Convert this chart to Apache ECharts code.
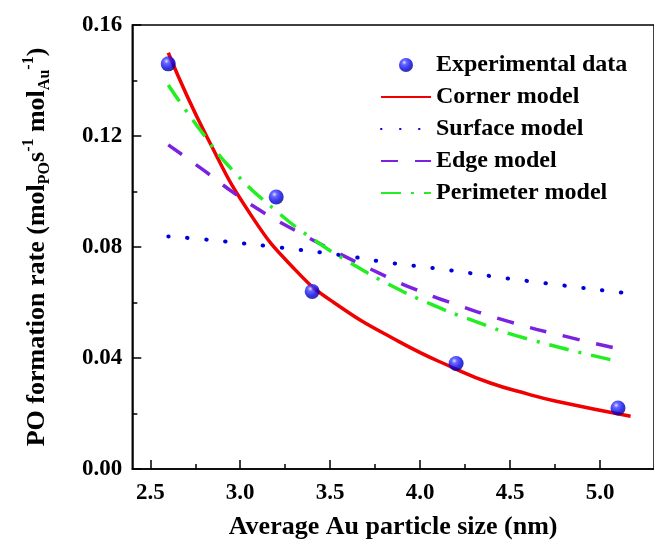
<!DOCTYPE html>
<html>
<head>
<meta charset="utf-8">
<title>PO formation rate</title>
<script src="https://cdn.jsdelivr.net/npm/echarts@6.0.0/dist/echarts.min.js"></script>
<style>
    html, body { margin: 0; padding: 0; background: #fff; }
    #main { width: 654px; height: 545px; }
</style>
</head>
<body>
<div id="main"></div>
<script>
// values, [size nm, rate]
const experimental = [[2.6, 0.146], [3.2, 0.098], [3.4, 0.064], [4.2, 0.038], [5.1, 0.022]];
const corner = [[2.6, 0.150], [2.82, 0.119], [3.07, 0.0905], [3.31, 0.0715], [3.52, 0.060], [3.88, 0.046],
    [4.2, 0.036], [4.39, 0.031], [4.6, 0.027], [4.75, 0.0245], [5.17, 0.019]];
const surface = [[2.6, 0.0838], [2.79, 0.0828], [3.21, 0.0799], [3.61, 0.0766], [3.81, 0.0745],
    [4.12, 0.072], [4.52, 0.0684], [5.12, 0.0636]];
const edge = [[2.6, 0.1168], [2.8, 0.1075], [2.96, 0.0997], [3.14, 0.0920], [3.31, 0.0858], [3.49, 0.0796],
    [3.81, 0.0694], [3.97, 0.0648], [4.15, 0.0604], [4.49, 0.0532], [4.82, 0.0476], [5.15, 0.0426]];
const perimeter = [[2.6, 0.1384], [2.77, 0.1228], [2.96, 0.1075], [3.2, 0.0930], [3.41, 0.0826],
    [3.62, 0.0740], [3.83, 0.0664], [4.06, 0.0594], [4.28, 0.0538], [4.58, 0.0472], [5.1, 0.0388]];
const legendNames = ["Experimental data", "Corner model", "Surface model", "Edge model", "Perimeter model"];
const xMajor = [2.5, 3.0, 3.5, 4.0, 4.5, 5.0];
const xMinor = [2.75, 3.25, 3.75, 4.25, 4.75];

const font = "'Liberation Serif', 'Times New Roman', serif";
const myChart = echarts.init(document.getElementById("main"));

const sphere = {
    type: "radial", x: 0.38, y: 0.32, r: 0.68,
    colorStops: [
        { offset: 0, color: "#d8d8ff" },
        { offset: 0.25, color: "#4040ff" },
        { offset: 0.7, color: "#0000e6" },
        { offset: 1, color: "#000090" },
    ],
};

// line entries in the legend: hide the little symbol, keep the line
const legendData = legendNames.map((name, i) =>
    i === 0 ? { name } : { name, itemStyle: { opacity: 0 } }
);

const option = {
    backgroundColor: "#fff",
    animation: false,
    grid: {
        left: 132.3, top: 25, right: -15.7, bottom: 75.7,
        show: true, borderColor: "#000", borderWidth: 1.5,
    },
    legend: {
        orient: "vertical",
        left: 375,
        top: 48,
        itemWidth: 50,
        itemHeight: 14,
        itemGap: 8,
        textStyle: { fontFamily: font, fontWeight: "bold", fontSize: 24, lineHeight: 24, color: "#000" },
        data: legendData,
    },
    xAxis: [
        {
            type: "value", min: 2.4, max: 5.3,
            name: "Average Au particle size (nm)",
            nameLocation: "middle", nameGap: 45,
            nameTextStyle: { fontFamily: font, fontWeight: "bold", fontSize: 26, color: "#000" },
            axisLine: { lineStyle: { color: "#000", width: 1.5 } },
            axisTick: { inside: true, length: 9, customValues: xMajor, lineStyle: { color: "#000", width: 1.5 } },
            axisLabel: {
                customValues: xMajor, margin: 13,
                fontFamily: font, fontWeight: "bold", fontSize: 23, color: "#000",
                formatter: (v) => v.toFixed(1),
            },
            splitLine: { show: false },
        },
        {
            // minor ticks only
            type: "value", min: 2.4, max: 5.3, position: "bottom",
            axisLine: { show: false },
            axisTick: { inside: true, length: 5, customValues: xMinor, lineStyle: { color: "#000", width: 1.5 } },
            axisLabel: { show: false },
            splitLine: { show: false },
        },
    ],
    yAxis: {
        type: "value", min: 0, max: 0.16, interval: 0.04,
        name: "PO formation rate (mol{sub|PO}s{sup|-1} mol{sub|Au}{sup|-1})",
        nameLocation: "middle", nameGap: 79, nameRotate: 90,
        nameTextStyle: {
            fontFamily: font, fontWeight: "bold", fontSize: 26, lineHeight: 32, color: "#000",
            rich: {
                sub: { fontFamily: font, fontWeight: "bold", fontSize: 16, lineHeight: 15, verticalAlign: "bottom", color: "#000" },
                sup: { fontFamily: font, fontWeight: "bold", fontSize: 16, lineHeight: 15, verticalAlign: "top", color: "#000" },
            },
        },
        axisLine: { show: true, lineStyle: { color: "#000", width: 1.5 } },
        axisTick: { inside: true, length: 9, lineStyle: { color: "#000", width: 1.5 } },
        minorTick: { show: true, splitNumber: 2, length: 5, lineStyle: { color: "#000", width: 1.5 } },
        axisLabel: {
            margin: 10, fontFamily: font, fontWeight: "bold", fontSize: 23, color: "#000",
            formatter: (v) => v.toFixed(2),
        },
        splitLine: { show: false },
    },
    series: [
        {
            name: "Corner model", type: "line", data: corner, smooth: true,
            symbol: "none", lineStyle: { color: "#f00000", width: 3.5 }, itemStyle: { color: "#f00000" },
        },
        {
            name: "Surface model", type: "line", data: surface, smooth: true,
            symbol: "none", lineStyle: { color: "#0000dd", width: 4, type: [0.5, 18.5], cap: "round" },
            itemStyle: { color: "#0000dd" },
        },
        {
            name: "Edge model", type: "line", data: edge, smooth: true,
            symbol: "none", lineStyle: { color: "#7b22e0", width: 3.5, type: [17, 17] },
            itemStyle: { color: "#7b22e0" },
        },
        {
            name: "Perimeter model", type: "line", data: perimeter, smooth: true,
            symbol: "none", lineStyle: { color: "#22ee22", width: 3.5, type: [20, 10, 3, 10] },
            itemStyle: { color: "#22ee22" },
        },
        {
            name: "Experimental data", type: "scatter", data: experimental, z: 5,
            symbolSize: 15, itemStyle: { color: sphere },
        },
    ],
};
myChart.setOption(option);
</script>
</body>
</html>
